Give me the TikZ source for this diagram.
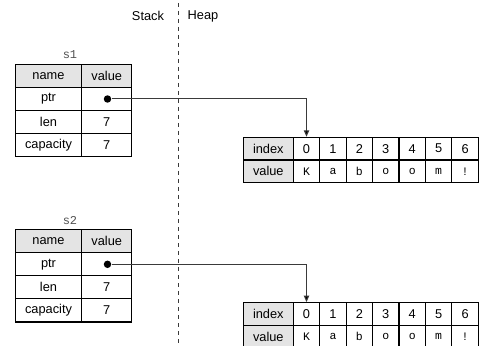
\documentclass[tikz,border=0pt]{standalone}
\usepackage{fontspec}
\setmainfont{Liberation Sans}
\setmonofont{Liberation Mono}
\usetikzlibrary{arrows.meta}
\definecolor{hdrfill}{HTML}{E4E4E4}
\definecolor{wire}{HTML}{3A3A3A}
\definecolor{lblgray}{HTML}{505050}

% One stack frame: the String header (ptr, len, capacity)
\newcommand\stackframe[2]{%
  \node[lbl] (#1-lbl) at (70,55) {#2};
  \node[hdrcell,ncol] (#1-hn) at (48.5,75.85) {name};
  \node[hdrcell,vcol] (#1-hv) at (106.7,75.85) {value};
  \node[cell,ncol] (#1-pn) at (48.5,98.95) {ptr};
  \node[cell,vcol] (#1-pv) at (106.7,98.95) {};
  \node[cell,ncol] (#1-ln) at (48.5,122.05) {len};
  \node[cell,vcol] (#1-lv) at (106.7,122.05) {7};
  \node[cell,ncol] (#1-cn) at (48.5,145.15) {capacity};
  \node[cell,vcol] (#1-cv) at (106.7,145.15) {7};
  \node[dot] (#1-dot) at (107.5,99) {};
}

% One heap buffer holding the bytes of "Kaboom!"
\newcommand\heapbuffer[1]{%
  \node[hdrcell,icol] (#1-ih) at (268.3,148.65) {index};
  \node[hdrcell,icol] (#1-vh) at (268.3,171.35) {value};
  \foreach \c [count=\k from 0] in {K,a,b,o,o,m,!} {
    \node[cell,dcol] (#1-i\k) at ({306.51+\k*26.43},148.65) {\k};
    \node[cell,dcol,font=\fontsize{8.6}{10}\ttfamily] (#1-v\k) at ({306.51+\k*26.43},171.35) {\c};
  }
}

\begin{document}
\begin{tikzpicture}[x=0.75pt,y=-0.75pt,
  cell/.style={draw=black, line width=0.8pt, inner sep=0pt, anchor=center,
    font=\fontsize{9.6}{11}\selectfont, minimum height=17.3pt},
  hdrcell/.style={cell, fill=hdrfill},
  ncol/.style={minimum width=49.8pt},
  vcol/.style={minimum width=37.5pt},
  icol/.style={minimum width=37.5pt, minimum height=17pt},
  dcol/.style={minimum width=19.8225pt, minimum height=17pt},
  lbl/.style={inner sep=0pt, text=lblgray, font=\fontsize{9}{10}\ttfamily},
  dot/.style={circle, fill=black, inner sep=0pt, minimum size=5.6pt},
  ptrline/.style={draw=wire, line width=0.75pt,
    -{Triangle[length=4.8pt,width=4pt,fill=black]}},
  divider/.style={draw=wire, line width=0.8pt, dash pattern=on 3pt off 3pt},
  title/.style={inner sep=0pt, font=\fontsize{9.6}{11}\selectfont}
]
\useasboundingbox (0,0) rectangle (479,346);
\clip (0,0) rectangle (479,346);

% stack / heap divider and titles
\coordinate (divtop) at (178.3,3);
\coordinate (divbot) at (178.3,346);
\draw[divider] (divtop) -- (divbot);
\node[title] (stacklbl) at (148,16) {Stack};
\node[title] (heaplbl) at (203,16) {Heap};

% s1 and its buffer
\stackframe{s1}{s1}
\heapbuffer{h1}

% s2 and its own copy of the buffer
\begin{scope}[shift={(0,165.3)}]
  \stackframe{s2}{s2}
  \heapbuffer{h2}
\end{scope}

% pointers
\draw[ptrline] (s1-dot.east) -| (h1-i0.north);
\draw[ptrline] (s2-dot.east) -| (h2-i0.north);
\end{tikzpicture}
\end{document}
